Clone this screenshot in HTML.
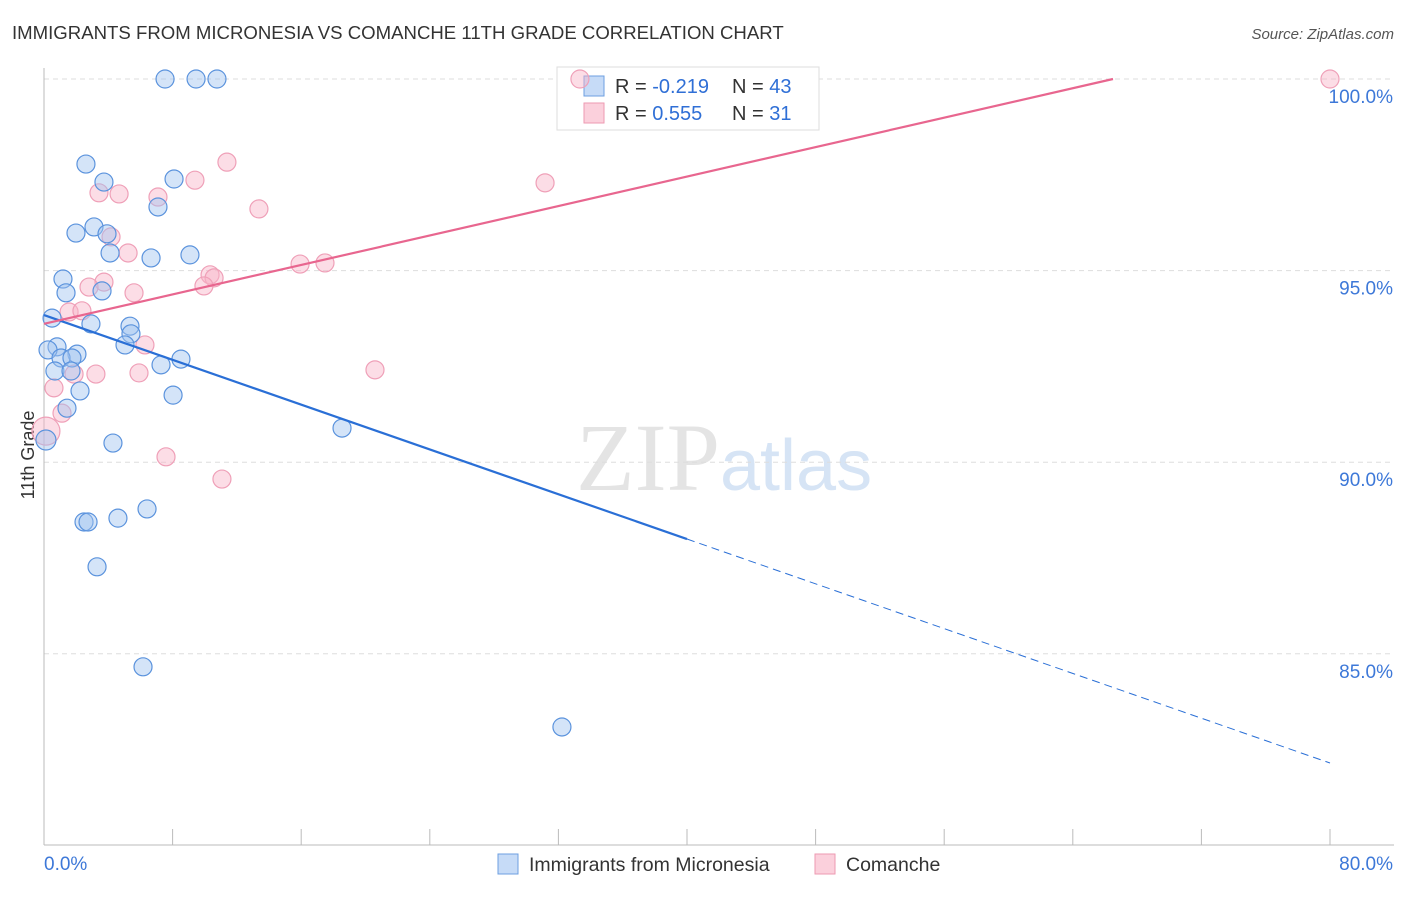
<!DOCTYPE html>
<html><head><meta charset="utf-8"><style>
body{margin:0;background:#fff;font-family:"Liberation Sans",sans-serif}
</style></head><body>
<svg id="chart" width="1406" height="892" xmlns="http://www.w3.org/2000/svg">
<text x="12" y="39" font-size="18.6" fill="#333">IMMIGRANTS FROM MICRONESIA VS COMANCHE 11TH GRADE CORRELATION CHART</text>
<text x="1394" y="39" font-size="15" fill="#555" font-style="italic" text-anchor="end">Source: ZipAtlas.com</text>
<text x="720" y="490" font-size="96" fill="#e4e4e4" font-family="Liberation Serif" text-anchor="end">ZIP</text>
<text x="720" y="490" font-size="72" fill="#d6e4f5">atlas</text>
<text transform="translate(34,455) rotate(-90)" font-size="18" fill="#333" text-anchor="middle">11th Grade</text>
<g id="grid"></g>
<g>
<rect x="557" y="67" width="262" height="63" fill="#fff" stroke="#ddd"/>
<rect x="584" y="76" width="20" height="20" fill="#c6dbf7" stroke="#6d9fe0"/>
<rect x="584" y="103" width="20" height="20" fill="#fbd0dc" stroke="#ee9ab2"/>
<text x="615" y="93" font-size="20" fill="#333">R = <tspan fill="#2f6fd6">-0.219</tspan></text>
<text x="732" y="93" font-size="20" fill="#333">N = <tspan fill="#2f6fd6">43</tspan></text>
<text x="615" y="120" font-size="20" fill="#333">R = <tspan fill="#2f6fd6"> 0.555</tspan></text>
<text x="732" y="120" font-size="20" fill="#333">N = <tspan fill="#2f6fd6"> 31</tspan></text>
</g>
<g id="pts"></g><g id="lines"></g>
<g>
<rect x="498" y="854" width="20" height="20" fill="#c6dbf7" stroke="#6d9fe0"/>
<text x="529" y="871" font-size="19.5" fill="#333">Immigrants from Micronesia</text>
<rect x="815" y="854" width="20" height="20" fill="#fbd0dc" stroke="#ee9ab2"/>
<text x="846" y="871" font-size="19.5" fill="#333">Comanche</text>
</g>
</svg>
<script>
const yTicks=[100,95,90,85];
const yTickLabels=["100.0%","95.0%","90.0%","85.0%"];
const xTicks=[0,8,16,24,32,40,48,56,64,72,80];
const blueX=[7.53,9.46,10.76,2.61,3.73,8.09,7.09,3.11,1.99,3.92,4.11,6.66,9.08,1.18,1.37,3.61,2.92,5.35,5.41,0.50,5.04,0.81,0.25,2.05,1.06,1.74,8.52,7.28,0.68,1.68,2.24,8.03,1.43,18.54,0.12,4.29,2.49,2.74,4.60,6.41,3.30,6.16,32.22];
const blueY=[100,100,100,97.78,97.31,97.39,96.66,96.14,95.98,95.96,95.46,95.33,95.41,94.78,94.42,94.47,93.61,93.55,93.35,93.76,93.06,93.01,92.93,92.82,92.72,92.72,92.69,92.54,92.38,92.38,91.86,91.75,91.41,90.89,90.58,90.50,88.44,88.44,88.54,88.78,87.27,84.66,83.09];
const pinkX=[33.34,80,11.38,9.39,3.42,4.67,7.09,31.17,13.37,4.17,5.23,15.93,17.48,10.33,10.58,3.73,2.80,9.95,5.60,1.56,2.36,6.28,1.87,3.23,5.91,20.59,0.62,1.12,0.12,7.59,11.07];
const pinkY=[100,100,97.83,97.36,97.03,97.0,96.92,97.29,96.61,95.88,95.46,95.17,95.20,94.89,94.81,94.70,94.57,94.60,94.42,93.92,93.95,93.06,92.30,92.30,92.33,92.41,91.94,91.28,90.81,90.14,89.56];
const blueLine=[93.84,82.15];
const pinkLine=[93.61,100];
const pinkLineEndX=66.5;
const blueSolidEndX=40;
const sx=v=>44+v*(1286/80);
const sy=v=>79+(100-v)*(191.6/5);
const NS="http://www.w3.org/2000/svg";
function mk(tag,attrs,parent){const e=document.createElementNS(NS,tag);for(const k in attrs)e.setAttribute(k,attrs[k]);document.getElementById(parent).appendChild(e);return e;}
yTicks.forEach((t,i)=>{
 const l=mk('line',{x1:44,x2:1394,y1:sy(t),y2:sy(t),stroke:'#ddd','stroke-dasharray':'5,4'},'grid');
 
 
 const tx=mk('text',{x:1393,y:sy(t)+24,'font-size':19,fill:'#3d78d8','text-anchor':'end'},'grid');
 tx.textContent=yTickLabels[i];
 
 
});
const ax=mk('line',{x1:44,x2:1394,y1:845,y2:845,stroke:'#bbb'},'grid');


const ay=mk('line',{x1:44,x2:44,y1:68,y2:845,stroke:'#bbb'},'grid');


xTicks.forEach(t=>{
 const l=mk('line',{x1:sx(t),x2:sx(t),y1:829,y2:845,stroke:'#bbb'},'grid');
 
 
});
const xl0=mk('text',{x:44,y:870,'font-size':19,fill:'#3d78d8'},'grid');xl0.textContent='0.0%';


const xl1=mk('text',{x:1393,y:870,'font-size':19,fill:'#3d78d8','text-anchor':'end'},'grid');xl1.textContent='80.0%';


pinkX.forEach((x,i)=>{
 const c=mk('circle',{cx:sx(x),cy:sy(pinkY[i]),r:(x<0.5?14:9),fill:'rgba(248,180,200,0.45)',stroke:'#efa0b8','stroke-width':1.2},'pts');
 
 
});
blueX.forEach((x,i)=>{
 const c=mk('circle',{cx:sx(x),cy:sy(blueY[i]),r:(x<0.2?10:9),fill:'rgba(160,196,240,0.45)',stroke:'#5b93dd','stroke-width':1.2},'pts');
 
 
});
const by=x=>blueLine[0]+(blueLine[1]-blueLine[0])*x/80;
const b1=mk('line',{x1:sx(0),y1:sy(by(0)),x2:sx(blueSolidEndX),y2:sy(by(blueSolidEndX)),stroke:'#2a6fd6','stroke-width':2.2},'lines');


const b2=mk('line',{x1:sx(blueSolidEndX),y1:sy(by(blueSolidEndX)),x2:sx(80),y2:sy(by(80)),stroke:'#2a6fd6','stroke-width':1,'stroke-dasharray':'8,5'},'lines');


const p1=mk('line',{x1:sx(0),y1:sy(pinkLine[0]),x2:sx(pinkLineEndX),y2:sy(pinkLine[1]),stroke:'#e8668f','stroke-width':2.2},'lines');


</script>
</body></html>
